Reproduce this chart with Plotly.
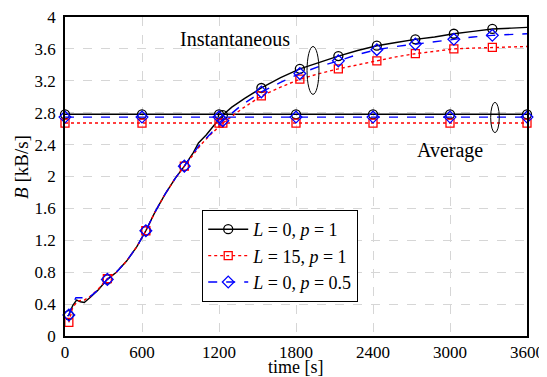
import plotly.graph_objects as go

# ---------------- data ----------------
t_black = [20, 30, 60, 90, 120, 150, 200, 260, 330, 400, 480, 560, 630, 700, 780, 860, 930,
           1000, 1040, 1100, 1160, 1230, 1300, 1400, 1530, 1680, 1830, 1980, 2130, 2280,
           2430, 2580, 2730, 2880, 3030, 3180, 3330, 3480, 3600]
b_black = [0.25, 0.263, 0.38, 0.45, 0.43, 0.42, 0.49, 0.58, 0.71, 0.80, 0.94, 1.12, 1.32, 1.55,
           1.78, 1.98, 2.13, 2.30, 2.42, 2.52, 2.64, 2.77, 2.87, 2.98, 3.11, 3.24, 3.35, 3.43,
           3.51, 3.58, 3.64, 3.68, 3.72, 3.75, 3.79, 3.82, 3.85, 3.86, 3.87]

t_red = [30, 60, 100, 150, 200, 260, 330, 400, 480, 560, 630, 700, 780, 860, 930,
         1000, 1060, 1130, 1230, 1380, 1530, 1680, 1830, 1980, 2130, 2280, 2430, 2580,
         2730, 2880, 3030, 3180, 3330, 3480, 3600]
b_red = [0.17, 0.36, 0.44, 0.45, 0.50, 0.59, 0.72, 0.80, 0.94, 1.12, 1.32, 1.55, 1.78, 1.98,
         2.13, 2.28, 2.40, 2.52, 2.67, 2.85, 3.01, 3.12, 3.22, 3.29, 3.35, 3.40, 3.45, 3.50,
         3.54, 3.57, 3.60, 3.61, 3.62, 3.63, 3.63]

t_blue = [20, 30, 60, 85, 150, 165, 200, 260, 330, 400, 480, 560, 630, 700, 780, 860, 930,
          1000, 1040, 1100, 1160, 1230, 1380, 1530, 1680, 1830, 1980, 2130, 2280, 2430,
          2580, 2730, 2880, 3030, 3180, 3330, 3480, 3600]
b_blue = [0.25, 0.263, 0.40, 0.48, 0.48, 0.46, 0.50, 0.58, 0.71, 0.80, 0.94, 1.12, 1.32, 1.55,
          1.78, 1.98, 2.13, 2.29, 2.38, 2.48, 2.58, 2.70, 2.90, 3.06, 3.18, 3.29, 3.38, 3.45,
          3.53, 3.59, 3.63, 3.66, 3.69, 3.72, 3.75, 3.77, 3.78, 3.79]

# instantaneous marker positions
t_mark = [30, 330, 630, 930, 1230, 1530, 1830, 2130, 2430, 2730, 3030, 3330]
m_black = [0.263, 0.71, 1.32, 2.13, 2.77, 3.11, 3.35, 3.51, 3.64, 3.72, 3.79, 3.85]
m_red = [0.17, 0.72, 1.32, 2.13, 2.67, 3.01, 3.22, 3.35, 3.45, 3.54, 3.60, 3.62]
m_blue = [0.263, 0.71, 1.32, 2.13, 2.70, 3.06, 3.29, 3.45, 3.59, 3.66, 3.72, 3.77]

# averages
t_avg = [0, 600, 1200, 1800, 2400, 3000, 3600]
avg_black = 2.78
avg_red = 2.67
avg_blue = 2.745

legend_names = ["<i>L</i> = 0, <i>p</i> = 1", "<i>L</i> = 15, <i>p</i> = 1", "<i>L</i> = 0, <i>p</i> = 0.5"]
x_ticks = [0, 600, 1200, 1800, 2400, 3000, 3600]
y_ticks = [0, 0.4, 0.8, 1.2, 1.6, 2, 2.4, 2.8, 3.2, 3.6, 4]

# ---------------- styles ----------------
styles = [
    dict(color="black", dash="solid", symbol="circle-open", size=9),
    dict(color="red", dash="dot", symbol="square-open", size=8),
    dict(color="blue", dash="dash", symbol="diamond-open", size=9),
]
FONT = "serif"

fig = go.Figure()

curves = [(t_black, b_black, m_black, avg_black),
          (t_red, b_red, m_red, avg_red),
          (t_blue, b_blue, m_blue, avg_blue)]

for (tc, bc, mk, av), st, name in zip(curves, styles, legend_names):
    line = dict(color=st["color"], dash=st["dash"], width=1.4)
    mark = dict(symbol=st["symbol"], size=st["size"], color=st["color"],
                line=dict(color=st["color"], width=1.3))
    fig.add_trace(go.Scatter(x=[t_avg[0], t_avg[-1]], y=[av, av], mode="lines",
                             line=line, showlegend=False, hoverinfo="skip", cliponaxis=False))
    fig.add_trace(go.Scatter(x=t_avg, y=[av] * len(t_avg), mode="markers",
                             marker=mark, showlegend=False, cliponaxis=False))
    fig.add_trace(go.Scatter(x=tc, y=bc, mode="lines", line=line, showlegend=False))
    fig.add_trace(go.Scatter(x=t_mark, y=mk, mode="markers", marker=mark, showlegend=False,
                             cliponaxis=False))
    fig.add_trace(go.Scatter(x=[None], y=[None], mode="lines+markers", line=line,
                             marker=mark, name=name, showlegend=True))

fig.add_shape(type="circle", xref="x", yref="y", x0=1886, x1=1979, y0=3.03, y1=3.63,
              line=dict(color="black", width=1))
fig.add_shape(type="circle", xref="x", yref="y", x0=3317, x1=3384, y0=2.55, y1=2.93,
              line=dict(color="black", width=1))

fig.add_annotation(x=1325, y=3.73, text="Instantaneous", showarrow=False,
                   font=dict(family=FONT, size=20, color="black"))
fig.add_annotation(x=3000, y=2.33, text="Average", showarrow=False,
                   font=dict(family=FONT, size=20, color="black"))

# axis titles as annotations (precise placement)
fig.add_annotation(xref="paper", yref="paper", x=0.5, y=-0.098, yanchor="middle",
                   text="time [s]", showarrow=False,
                   font=dict(family=FONT, size=18, color="black"))
fig.add_annotation(xref="paper", yref="paper", x=-0.093, y=0.53, xanchor="center",
                   text="<i>B</i> [kB/s]", textangle=-90, showarrow=False,
                   font=dict(family=FONT, size=19, color="black"))

axis_common = dict(showline=True, linecolor="black", linewidth=1.5, mirror=True,
                   showgrid=True, gridcolor="#d6d6d6", griddash="dash", gridwidth=1,
                   zeroline=False, ticks="", automargin=False, ticklabeloverflow="allow",
                   tickfont=dict(family=FONT, size=17, color="black"))

fig.update_xaxes(range=[0, 3600], tickvals=x_ticks, ticktext=[str(v) for v in x_ticks],
                 **axis_common)
fig.update_yaxes(range=[0, 4], tickvals=y_ticks, ticktext=[("%g" % v) for v in y_ticks],
                 ticklabelstandoff=4, **axis_common)

fig.update_layout(
    width=547, height=377,
    margin=dict(l=57, r=28, t=9, b=49),
    paper_bgcolor="white", plot_bgcolor="white",
    font=dict(family=FONT, size=16, color="black"),
    legend=dict(x=0.297, y=0.395, xanchor="left", yanchor="top",
                bgcolor="white", bordercolor="black", borderwidth=1,
                font=dict(family=FONT, size=18, color="black"),
                tracegroupgap=0, itemwidth=40),
    showlegend=True,
)

fig.write_html("out.html")
